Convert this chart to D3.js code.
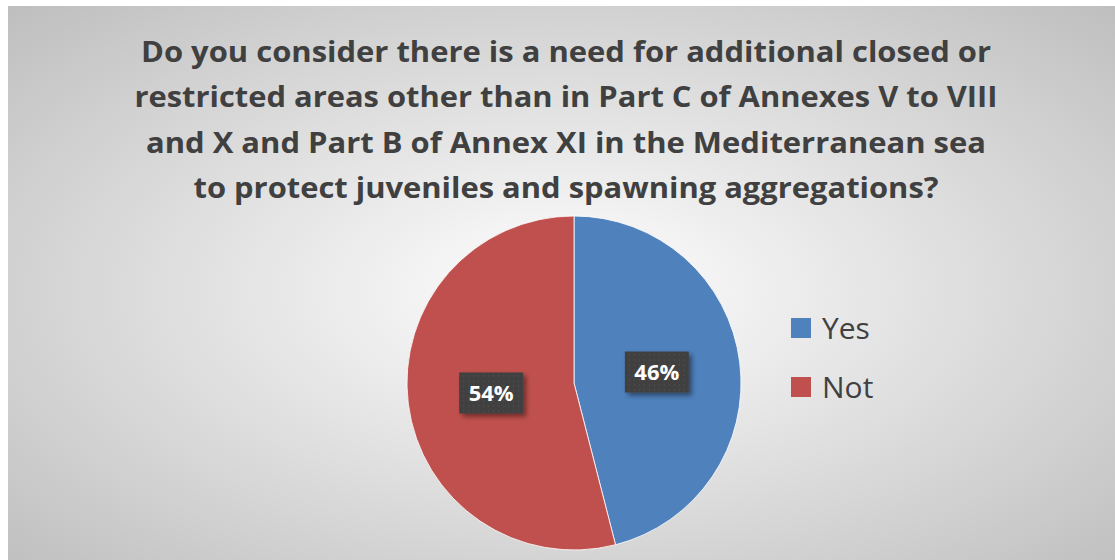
<!DOCTYPE html>
<html>
<head>
<meta charset="utf-8">
<script src="https://cdn.jsdelivr.net/npm/d3@7"></script>
<style>
  body { margin: 0; background: #fff; }
  svg { display: block; }
</style>
</head>
<body>
<div id="chart"></div>
<script>
// data
const categories = ["Yes", "Not"];
const shares = [46, 54];
const colors = ["#4f81bd", "#c0504d"];
const titleLines = [
  "Do you consider there is a need for additional closed or",
  "restricted areas other than in Part C of Annexes V to VIII",
  "and X and Part B of Annex XI in the Mediterranean sea",
  "to protect juveniles and spawning aggregations?"
];
const titleWidths = [850, 863, 840, 745];

const W = 1115, H = 560;
const box = {x: 8, y: 6, w: 1116, h: 570};
const font = "'Open Sans', sans-serif";

const svg = d3.select("#chart").append("svg")
  .attr("width", W).attr("height", H);

const defs = svg.append("defs");

// chart area background: radial gradient like office "from center"
const grad = defs.append("radialGradient")
  .attr("id", "bg")
  .attr("cx", "50%").attr("cy", "50%").attr("r", "72%");
grad.append("stop").attr("offset", "0%").attr("stop-color", "#ffffff");
grad.append("stop").attr("offset", "100%").attr("stop-color", "#bdbdbd");

const pat = defs.append("pattern")
  .attr("id", "dots")
  .attr("patternUnits", "userSpaceOnUse")
  .attr("width", 5).attr("height", 5);
pat.append("rect").attr("width", 5).attr("height", 5).attr("fill", "#404040");
pat.append("rect").attr("x", 2).attr("y", 2).attr("width", 1).attr("height", 1).attr("fill", "#5a5a5a");

const shadow = defs.append("filter").attr("id", "shadow")
  .attr("x", "-30%").attr("y", "-30%").attr("width", "160%").attr("height", "160%");
shadow.append("feDropShadow")
  .attr("dx", 3).attr("dy", 3).attr("stdDeviation", 2.5)
  .attr("flood-color", "#000").attr("flood-opacity", 0.45);

svg.append("rect")
  .attr("x", box.x).attr("y", box.y)
  .attr("width", box.w).attr("height", box.h)
  .attr("fill", "url(#bg)");

// Title
const title = svg.append("g")
  .attr("font-family", font)
  .attr("font-weight", "bold")
  .attr("font-size", 29)
  .attr("fill", "#404040")
  .attr("text-anchor", "middle");

title.selectAll("text")
  .data(titleLines)
  .join("text")
    .attr("x", 566)
    .attr("y", (d, i) => 62 + i * 45.3)
    .attr("textLength", (d, i) => titleWidths[i])
    .attr("lengthAdjust", "spacingAndGlyphs")
    .text(d => d);

// Pie
const cx = 574, cy = 383, r = 167;
const data = categories.map((c, i) => ({name: c, value: shares[i]}));

const color = d3.scaleOrdinal().domain(categories).range(colors);

const pie = d3.pie().value(d => d.value).sort(null);
const arc = d3.arc().innerRadius(0).outerRadius(r);
const arcs = pie(data);

const g = svg.append("g").attr("transform", `translate(${cx},${cy})`);

g.selectAll("path")
  .data(arcs)
  .join("path")
    .attr("d", arc)
    .attr("fill", d => color(d.data.name))
    .attr("stroke", "#ffffff")
    .attr("stroke-width", 0.8);

// data labels
const labelArc = d3.arc().innerRadius(r * 0.5).outerRadius(r * 0.5);
const fmt = d => d3.format(".0%")(d / 100);

const labels = g.selectAll("g.lbl")
  .data(arcs)
  .join("g")
    .attr("class", "lbl")
    .attr("transform", d => {
      const [x, y] = labelArc.centroid(d);
      return `translate(${x},${y})`;
    });

labels.append("rect")
  .attr("x", -32).attr("y", -21)
  .attr("width", 64).attr("height", 41)
  .attr("fill", "url(#dots)")
  .attr("filter", "url(#shadow)");

labels.append("text")
  .attr("text-anchor", "middle")
  .attr("dy", "0.36em")
  .attr("font-family", font)
  .attr("font-weight", "bold")
  .attr("font-size", 22)
  .attr("fill", "#ffffff")
  .text(d => fmt(d.data.value));

// Legend
const legend = svg.append("g").attr("transform", "translate(791,318)");
const items = legend.selectAll("g")
  .data(categories)
  .join("g")
    .attr("transform", (d, i) => `translate(0,${i * 59})`);

items.append("rect")
  .attr("width", 20).attr("height", 20)
  .attr("fill", d => color(d));

items.append("text")
  .attr("x", 31).attr("y", 10)
  .attr("dy", "0.36em")
  .attr("font-family", font)
  .attr("font-size", 30)
  .attr("fill", "#404040")
  .text(d => d);
</script>
</body>
</html>
